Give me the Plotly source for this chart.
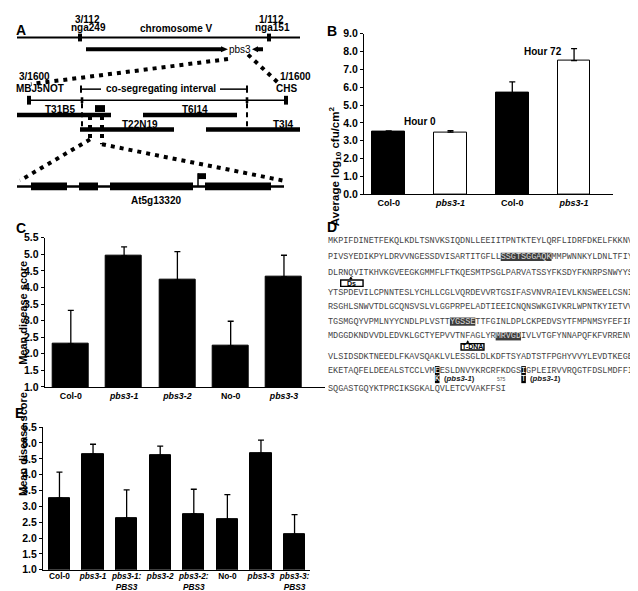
import plotly.graph_objects as go

W, H = 638, 591
SANS = "Liberation Sans, Arial, Helvetica, sans-serif"
MONO = "Liberation Mono, Courier New, monospace"

# ---------------- data ----------------
# Panel B: bacterial growth
b_categories = ["Col-0", "pbs3-1", "Col-0", "pbs3-1"]
b_values = [3.50, 3.48, 5.67, 7.49]
b_err_top = [3.55, 3.57, 6.30, 8.16]
b_fill = ["black", "white", "black", "white"]
b_groups = ["Hour 0", "Hour 72"]
b_group_pos = [0.5, 2.5]
b_group_y = [4.07, 7.97]
b_ticks = [0, 1, 2, 3, 4, 5, 6, 7, 8, 9]

# Panel C: mean disease score
c_categories = ["Col-0", "pbs3-1", "pbs3-2", "No-0", "pbs3-3"]
c_values = [2.30, 4.95, 4.22, 2.24, 4.32]
c_err_top = [3.31, 5.22, 5.08, 2.98, 4.97]

# Panel E: complementation
e_categories = ["Col-0", "pbs3-1", "pbs3-1:PBS3", "pbs3-2", "pbs3-2:PBS3",
                "No-0", "pbs3-3", "pbs3-3:PBS3"]
e_values = [3.26, 4.65, 2.63, 4.61, 2.76, 2.59, 4.67, 2.12]
e_err_top = [4.08, 4.96, 3.52, 4.90, 3.54, 3.37, 5.09, 2.74]
score_ticks = [1.0, 1.5, 2.0, 2.5, 3.0, 3.5, 4.0, 4.5, 5.0, 5.5]

# Panel D: PBS3 protein sequence
seq_lines = [
    "MKPIFDINETFEKQLKDLTSNVKSIQDNLLEEIITPNTKTEYLQRFLIDRFDKELFKKNV",
    "PIVSYEDIKPYLDRVVNGESSDVISARTITGFLLSSGTSGGAQKMMPWNNKYLDNLTFIY",
    "DLRNQVITKHVKGVEEGKGMMFLFTKQESMTPSGLPARVATSSYFKSDYFKNRPSNWYYS",
    "YTSPDEVILCPNNTESLYCHLLCGLVQRDEVVRTGSIFASVNVRAIEVLKNSWEELCSNI",
    "RSGHLSNWVTDLGCQNSVSLVLGGPRPELADTIEEICNQNSWKGIVKRLWPNTKYIETVV",
    "TGSMGQYVPMLNYYCNDLPLVSTTYGSSETTFGINLDPLCKPEDVSYTFMPNMSYFEFIP",
    "MDGGDKNDVVDLEDVKLGCTYEPVVTNFAGLYRMRVGDIVLVTGFYNNAPQFKFVRRENV",
    "VLSIDSDKTNEEDLFKAVSQAKLVLESSGLDLKDFTSYADTSTFPGHYVVYLEVDTKEGE",
    "EKETAQFELDEEALSTCCLVMEESLDNVYKRCRFKDGSIGPLEIRVVRQGTFDSLMDFFI",
    "SQGASTGQYKTPRCIKSGKALQVLETCVVAKFFSI",
]
seq_numbers = [60, 120, 180, 240, 300, 360, 420, 480, 540, 575]
seq_line_y = [232, 248, 264, 285, 299, 314, 329, 350, 364, 383]
# motifs (line index, first char, last char)
motifs = [(1, 34, 43), (5, 24, 28), (6, 33, 37)]
# pbs3-1 point mutations (line index, char index, mutant residue)
mutations = [(8, 21, "K"), (8, 38, "T")]
# insertions (label, line index above, char index)
insertions = [("Ds", 2, 4), ("T-DNA", 6, 27)]

# Panel A: map schematic (schematic units ~ pixels)
chrom_line = (9, 292, 24)
chrom_markers = [72, 261]
chrom_marker_text = [("3/112", "nga249", 79), ("1/112", "nga151", 263)]
pbs3_bar = (78, 214, 36)
interval_line = (21, 278, 88)
interval_end_markers = [21, 278]
interval_inner_markers = [74, 239]
bacs = [("T31B5", 9, 103, 103, 52), ("T6I14", 135, 229, 103, 187),
        ("T22N19", 72, 166, 118, 132), ("T3I4", 198, 292, 118, 275)]
gene_line = (9, 276, 176)
exons = [(23, 59), (71, 90), (102, 185), (197, 263)]
flag_x = 190

# ---------------- helpers ----------------
def py(y):
    return 1 - y / H


def fmt_geno(name):
    parts = name.split(":")
    out = []
    for i, p in enumerate(parts):
        t = p + (":" if i < len(parts) - 1 else "")
        if p.lower().startswith("pbs3"):
            out.append("<b><i>%s</i></b>" % t)
        else:
            out.append("<b>%s</b>" % t)
    return "<br>".join(out)


fig = go.Figure()


def add_bars(xa, ya, vals, tops, colors, width):
    fig.add_trace(go.Bar(
        x=list(range(len(vals))), y=vals, xaxis=xa, yaxis=ya, width=width,
        marker=dict(color=colors, line=dict(color="black", width=1)),
        error_y=dict(type="data", symmetric=False,
                     array=[t - v for t, v in zip(tops, vals)],
                     arrayminus=[0] * len(vals),
                     color="black", thickness=1.3, width=3),
        showlegend=False, hoverinfo="skip"))


add_bars("x", "y", b_values, b_err_top, b_fill, 0.53)
add_bars("x2", "y2", c_values, c_err_top, "black", 0.675)
add_bars("x3", "y3", e_values, e_err_top, "black", 0.63)

tick_font = dict(family=SANS, size=10.5, color="black")


def yax(domain, rng, ticks, anchor):
    return dict(domain=domain, range=rng, anchor=anchor, tickmode="array",
                tickvals=ticks, ticktext=["<b>%.1f</b>" % t for t in ticks],
                ticks="outside", ticklen=3, tickwidth=1, tickcolor="black",
                showline=True, linecolor="black", linewidth=1,
                showgrid=False, zeroline=False, tickfont=tick_font, fixedrange=True)


def xax(domain, rng, cats, anchor, size, standoff=0):
    return dict(domain=domain, range=rng, anchor=anchor, tickmode="array",
                tickvals=list(range(len(cats))), ticktext=[fmt_geno(c) for c in cats],
                ticks="", showline=True, linecolor="black", linewidth=1,
                ticklabelstandoff=standoff,
                showgrid=False, zeroline=False, fixedrange=True,
                tickfont=dict(family=SANS, size=size, color="black"))


hidden = dict(visible=False, showgrid=False, zeroline=False, fixedrange=True)

SEQ_FS = 8.5
CHAR_W = 5.08  # px per residue cell

fig.update_layout(
    width=W, height=H, margin=dict(l=0, r=0, t=0, b=0),
    paper_bgcolor="white", plot_bgcolor="rgba(0,0,0,0)",
    font=dict(family=SANS, color="black"),
    bargap=0,
    xaxis=xax([356 / W, 605 / W], [-0.40, 3.63], b_categories, "y", 9),
    yaxis=yax([py(184), py(20)], [0, 9], b_ticks, "x"),
    xaxis2=xax([36.7 / W, 317 / W], [-0.49, 4.77], c_categories, "y2", 8.8),
    yaxis2=yax([py(380.7), py(228.3)], [1, 5.5], score_ticks, "x2"),
    xaxis3=xax([35 / W, 302 / W], [-0.49, 7.46], e_categories, "y3", 8.3, -2),
    yaxis3=yax([py(567.3), py(421.7)], [1, 5.5], score_ticks, "x3"),
    xaxis4=dict(hidden, domain=[320 / W, 1], range=[0, (W - 320) / CHAR_W], anchor="y4"),
    yaxis4=dict(hidden, domain=[py(395), py(212)], range=[395, 212], anchor="x4"),
    xaxis5=dict(hidden, domain=[0, 320 / W], range=[0, 320], anchor="y5"),
    yaxis5=dict(hidden, domain=[py(200), 1], range=[200, 0], anchor="x5"),
)

shapes = []
ann = []


def A_line(x0, y0, x1, y1, w, dash="solid"):
    shapes.append(dict(type="line", xref="x5", yref="y5", x0=x0, y0=y0, x1=x1, y1=y1,
                       line=dict(color="black", width=w, dash=dash)))


def A_rect(x0, y0, x1, y1):
    shapes.append(dict(type="rect", xref="x5", yref="y5", x0=x0, y0=y0, x1=x1, y1=y1,
                       line=dict(width=0), fillcolor="black"))


def A_text(t, x, y, size=10, bold=True):
    ann.append(dict(text=("<b>%s</b>" % t) if bold else t, x=x, y=y, xref="x5", yref="y5",
                    showarrow=False, font=dict(family=SANS, size=size, color="black"),
                    xanchor="center", yanchor="middle", borderpad=0))


# ---- Panel A ----
x0, x1, yy = chrom_line
A_line(x0, yy, x1, yy, 2)
for m in chrom_markers:
    A_rect(m - 2, yy - 4, m + 2, yy + 4)
for t1, t2, xm in chrom_marker_text:
    A_text(t1, xm, 5.5)
    A_text(t2, xm + 1, 14)
A_text("chromosome V", 168, 14.5)
bx0, bx1, by = pbs3_bar
A_line(bx0, by, bx1, by, 4)
shapes.append(dict(type="path", xref="x5", yref="y5",
                   path="M %g %g L %g %g L %g %g Z" % (bx1 - 1, by - 3, bx1 + 6, by, bx1 - 1, by + 3),
                   fillcolor="black", line=dict(width=0)))
A_line(249, by, 255, by, 4)
shapes.append(dict(type="path", xref="x5", yref="y5",
                   path="M 250 %g L 244 %g L 250 %g Z" % (by - 3, by, by + 3),
                   fillcolor="black", line=dict(width=0)))
A_text("pbs3", 232, by, size=10, bold=False)
# zoom dotted lines
A_line(220, 46, 23, 71.5, 4, "4px,5px")
A_line(240, 41.5, 270, 70, 4, "4px,5px")
A_text("3/1600", 26, 63.5)
A_text("MBJ5NOT", 31.5, 76.5)
A_text("1/1600", 287.5, 64)
A_text("CHS", 278, 76.5)
A_text("co-segregating interval", 153, 76.5)
A_line(73, 76.7, 93, 76.7, 1.5)
A_line(212, 76.7, 239, 76.7, 1.5)
A_line(73, 73, 73, 80.5, 2)
A_line(239, 73, 239, 80.5, 2)
ix0, ix1, iy = interval_line
A_line(ix0, iy, ix1, iy, 1.5)
for m in interval_end_markers:
    A_rect(m - 2, iy - 4.5, m + 2, iy + 4.5)
for m in interval_inner_markers:
    A_rect(m - 1.3, iy - 3, m + 1.3, iy + 3)
for name, bx0_, bx1_, byy, lx in bacs:
    A_line(bx0_, byy, bx1_, byy, 4.5)
    A_text(name, lx, byy - 5.5)
A_rect(87, 93, 97, 100)
A_line(74, 91, 74, 118, 2, "5px,4px")
A_line(239, 91, 239, 115, 2, "5px,4px")
A_line(82, 104, 82, 128, 4, "4px,5px")
A_line(94, 104, 94, 133, 4, "4px,5px")
A_line(82, 128, 12, 170, 4, "4px,5px")
A_line(94, 133, 275, 170, 4, "4px,5px")
gx0, gx1, gy = gene_line
A_line(gx0, gy, gx1, gy, 2.5)
for e0, e1 in exons:
    A_rect(e0, gy - 4, e1, gy + 4)
A_line(flag_x, gy, flag_x, 162.5, 1.5)
A_rect(flag_x, 162.5, flag_x + 8, 168.5)
A_text("At5g13320", 148, 190.5)

# ---- Panel B annotations ----
for t, xg, yg in zip(b_groups, b_group_pos, b_group_y):
    ann.append(dict(text="<b>%s</b>" % t, x=xg, y=yg, xref="x", yref="y", showarrow=False,
                    font=dict(family=SANS, size=10, color="black"), yanchor="middle"))
ann.append(dict(text="<b>Average log<sub>10</sub> cfu/cm<sup>2</sup></b>", x=327 / W, y=py(92),
                xref="paper", yref="paper", showarrow=False, textangle=-90,
                font=dict(family=SANS, size=11.5, color="black")))
ann.append(dict(text="<b>Mean disease score</b>", x=7 / W, y=py(305), xref="paper", yref="paper",
                showarrow=False, textangle=-90, font=dict(family=SANS, size=11, color="black")))
ann.append(dict(text="<b>Mean disease score</b>", x=7 / W, y=py(494), xref="paper", yref="paper",
                showarrow=False, textangle=-90, font=dict(family=SANS, size=11, color="black")))

# ---- Panel labels ----
for t, lx, ly in [("A", 6, 6), ("B", 324, 7.5), ("C", 6, 218), ("D", 324, 217.5), ("E", 5, 417)]:
    ann.append(dict(text="<b>%s</b>" % t, x=lx / W, y=py(ly), xref="paper", yref="paper",
                    showarrow=False, font=dict(family=SANS, size=14, color="black")))

# ---- Panel D ----
hl = {}
for li, a, b in motifs:
    for k in range(a, b + 1):
        hl[(li, k)] = "#dddddd"
    shapes.append(dict(type="rect", xref="x4", yref="y4", x0=a, x1=b + 1,
                       y0=seq_line_y[li] - 4.2, y1=seq_line_y[li] + 4.2,
                       fillcolor="#3c3c3c", line=dict(width=0), layer="below"))

mut_x, mut_y, mut_t = [], [], []
for li, k, mut in mutations:
    hl[(li, k)] = "white"
    shapes.append(dict(type="rect", xref="x4", yref="y4", x0=k + 0.05, x1=k + 0.95,
                       y0=seq_line_y[li] - 4.6, y1=seq_line_y[li] + 4.4,
                       fillcolor="black", line=dict(width=0), layer="below"))
    my = seq_line_y[li] + 8.8
    shapes.append(dict(type="rect", xref="x4", yref="y4", x0=k + 0.05, x1=k + 0.95,
                       y0=my - 4.0, y1=my + 4.0,
                       fillcolor="black", line=dict(width=0), layer="below"))
    mut_x.append(k + 0.5)
    mut_y.append(my)
    mut_t.append(mut)
    ann.append(dict(text="<b>(<i>pbs3-1</i>)</b>", x=k + 1.6, y=my - 0.5, xref="x4", yref="y4",
                    xanchor="left", yanchor="middle", showarrow=False, borderpad=0,
                    font=dict(family=SANS, size=7.8, color="#222")))

sx, sy, st, sc = [], [], [], []
for li, s in enumerate(seq_lines):
    for k, ch in enumerate(s):
        sx.append(k + 0.5)
        sy.append(seq_line_y[li])
        st.append(ch)
        sc.append(hl.get((li, k), "#444444"))
fig.add_trace(go.Scatter(x=sx, y=sy, text=st, mode="text", textposition="middle center",
                         textfont=dict(family=MONO, size=SEQ_FS, color=sc),
                         xaxis="x4", yaxis="y4", showlegend=False, hoverinfo="skip",
                         cliponaxis=False))
fig.add_trace(go.Scatter(x=mut_x, y=mut_y, text=mut_t, mode="text", textposition="middle center",
                         textfont=dict(family=MONO, size=SEQ_FS, color="white"),
                         xaxis="x4", yaxis="y4", showlegend=False, hoverinfo="skip",
                         cliponaxis=False))

for li, s in enumerate(seq_lines):
    if li < len(seq_lines) - 1:
        nx, ny = len(s) + 0.6, seq_line_y[li] - 5.5
    else:
        nx, ny = 33.3, seq_line_y[li] - 10
    ann.append(dict(text=str(seq_numbers[li]), x=nx, y=ny, xref="x4", yref="y4",
                    xanchor="left", yanchor="middle", showarrow=False, borderpad=0, borderwidth=0,
                    font=dict(family=SANS, size=5, color="#555")))

for lab, li, k in insertions:
    ly = seq_line_y[li]
    w = 4.4 if lab == "Ds" else 4.5
    cx = k + 0.5
    bx0_ = cx - (2.0 if lab == "Ds" else 1.3)
    y0b, y1b = ly + 7.5, ly + 14
    shapes.append(dict(type="rect", xref="x4", yref="y4", x0=bx0_, x1=bx0_ + w,
                       y0=y0b, y1=y1b, line=dict(color="black", width=1.4), fillcolor="white"))
    shapes.append(dict(type="line", xref="x4", yref="y4", x0=cx, x1=cx, y0=y0b, y1=ly + 4.5,
                       line=dict(color="black", width=1)))
    shapes.append(dict(type="path", xref="x4", yref="y4",
                       path="M %g %g L %g %g L %g %g Z" % (cx - 0.35, ly + 6.5, cx, ly + 4.3, cx + 0.35, ly + 6.5),
                       fillcolor="black", line=dict(width=0)))
    ann.append(dict(text="<b>%s</b>" % lab, x=bx0_ + w / 2, y=(y0b + y1b) / 2, xref="x4", yref="y4",
                    showarrow=False, xanchor="center", yanchor="middle", borderpad=0,
                    font=dict(family=SANS, size=7, color="black")))

fig.update_layout(shapes=shapes, annotations=ann)
fig.write_html("out.html")
